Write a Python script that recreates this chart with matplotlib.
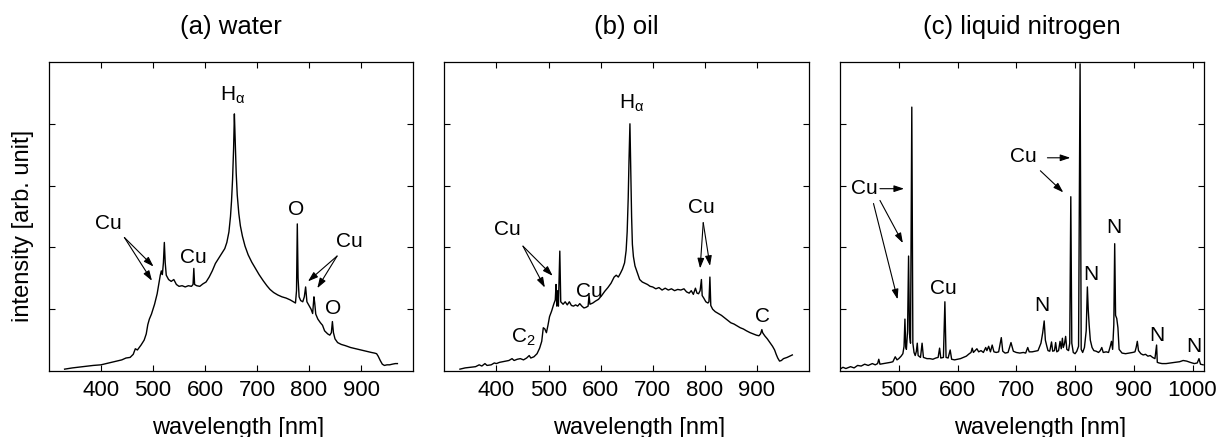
import matplotlib
matplotlib.use("Agg")
import matplotlib.pyplot as plt

plt.rcParams['font.family'] = ['Liberation Sans', 'DejaVu Sans']
plt.rcParams['mathtext.fontset'] = 'custom'
plt.rcParams['mathtext.rm'] = 'Liberation Sans'
plt.rcParams['mathtext.it'] = 'Liberation Sans'

# ---- (a) water ----
wl_water = [330, 345, 365, 385, 400, 415, 430, 440, 448, 456, 462, 466, 470, 477, 483,
            487, 490, 493, 497, 503, 508, 512, 514, 516, 518, 520, 521.8, 523.5, 525.5,
            530, 535, 540, 545, 550, 556, 562, 568, 574, 577, 578.5, 580, 584, 590, 596,
            602, 608, 614, 620, 626, 632, 638, 642, 646, 649, 651, 653, 655, 656.5, 658,
            660, 662, 665, 668, 672, 677, 683, 690, 697, 704, 712, 719, 725, 732, 740,
            748, 756, 764, 770, 774, 776, 777.5, 779, 781, 784, 788, 791, 793.5, 796,
            800, 804, 807, 809.5, 811, 813, 817, 822, 826, 830, 836, 840, 843, 845, 847,
            850, 855, 862, 870, 880, 890, 900, 910, 920, 926, 930, 933, 937, 941, 945,
            950, 955, 960, 966, 970]
int_water = [0.03, 0.05, 0.07, 0.09, 0.10, 0.13, 0.16, 0.18, 0.21, 0.22, 0.27, 0.36, 0.34,
             0.42, 0.50, 0.60, 0.75, 0.84, 0.92, 1.08, 1.25, 1.45, 1.55, 1.62, 1.56, 1.75,
             2.08, 1.75, 1.55, 1.48, 1.45, 1.48, 1.40, 1.37, 1.38, 1.36, 1.38, 1.37, 1.40,
             1.66, 1.40, 1.38, 1.37, 1.41, 1.44, 1.52, 1.62, 1.74, 1.82, 1.90, 1.98, 2.08,
             2.25, 2.50, 2.75, 3.10, 3.60, 4.16, 3.75, 3.20, 2.85, 2.55, 2.35, 2.18, 2.02,
             1.88, 1.76, 1.66, 1.56, 1.46, 1.38, 1.32, 1.27, 1.23, 1.20, 1.18, 1.15, 1.12,
             1.10, 1.30, 2.38, 1.50, 1.20, 1.14, 1.12, 1.20, 1.36, 1.12, 1.06, 1.00, 0.93,
             1.20, 1.10, 0.92, 0.84, 0.78, 0.74, 0.65, 0.60, 0.58, 0.62, 0.80, 0.62, 0.52,
             0.46, 0.43, 0.41, 0.38, 0.36, 0.34, 0.32, 0.30, 0.29, 0.28, 0.24, 0.17, 0.11,
             0.09, 0.10, 0.10, 0.11, 0.12, 0.12]

# ---- (b) oil ----
wl_oil = [330, 340, 350, 360, 367, 372, 378, 382, 390, 396, 400, 406, 412, 418, 424, 430,
          434, 440, 446, 452, 458, 463, 466, 472, 478, 483, 487, 490, 493, 496, 499, 502,
          506, 510, 513, 514.5, 516, 517.5, 519, 521.7, 523.5, 528, 532, 536, 540, 544,
          548, 552, 556, 560, 564, 568, 572, 576, 577.8, 579.5, 585, 590, 596, 602, 608,
          614, 620, 626, 630, 634, 638, 642, 646, 649, 651, 653, 654.5, 656.3, 658, 659.5,
          661, 663, 666, 670, 675, 680, 685, 690, 695, 700, 706, 712, 718, 724, 730, 736,
          742, 748, 754, 760, 765, 770, 774, 778, 782, 785, 788, 791, 793.5, 795, 798,
          802, 806, 808, 809.8, 811.5, 815, 820, 826, 832, 838, 844, 850, 856, 862, 868,
          874, 880, 887, 893, 899, 904, 907, 909.5, 911, 915, 920, 925, 930, 934, 937,
          940, 943.5, 947, 951, 958, 963, 968]
int_oil = [0.03, 0.05, 0.06, 0.07, 0.10, 0.08, 0.12, 0.09, 0.10, 0.13, 0.12, 0.14, 0.15,
           0.16, 0.17, 0.20, 0.17, 0.19, 0.20, 0.18, 0.21, 0.25, 0.21, 0.23, 0.28, 0.37,
           0.48, 0.70, 0.68, 0.62, 0.74, 0.88, 0.97, 1.08, 1.15, 1.40, 1.05, 1.30, 1.05,
           1.94, 1.12, 1.08, 1.12, 1.07, 1.12, 1.06, 1.05, 1.07, 1.05, 1.09, 1.05, 1.02,
           1.03, 1.05, 1.23, 1.08, 1.10, 1.13, 1.16, 1.22, 1.29, 1.35, 1.42, 1.52, 1.55,
           1.52, 1.58, 1.65, 1.75, 1.95, 2.25, 2.80, 3.40, 4.00, 3.20, 2.50, 2.05, 1.85,
           1.70, 1.60, 1.48, 1.44, 1.42, 1.40, 1.37, 1.36, 1.33, 1.35, 1.31, 1.34, 1.31,
           1.33, 1.30, 1.32, 1.31, 1.33, 1.28, 1.26, 1.30, 1.24, 1.34, 1.26, 1.25, 1.30,
           1.48, 1.22, 1.18, 1.12, 1.10, 1.12, 1.52, 1.06, 1.00, 0.96, 0.93, 0.90, 0.86,
           0.82, 0.78, 0.76, 0.73, 0.70, 0.68, 0.65, 0.62, 0.60, 0.58, 0.57, 0.60, 0.67,
           0.62, 0.57, 0.52, 0.46, 0.40, 0.34, 0.27, 0.21, 0.16, 0.17, 0.20, 0.22, 0.24,
           0.26]

# ---- (c) liquid nitrogen ----
wl_ln2 = [400, 405, 410, 418, 424, 430, 436, 442, 448, 455, 460, 464, 466, 468, 474, 480,
          486, 490, 494, 497, 500, 504, 507, 509, 510.5, 511.8, 513, 515, 516.7, 518.3,
          520, 522.2, 524, 526, 528, 530, 531.5, 533, 537, 539.7, 542, 548, 553, 558, 563,
          567, 569.5, 571.5, 576, 578.5, 580.5, 584, 587.5, 590, 595, 600, 605, 610, 615,
          620, 623, 625, 627, 630, 633, 636, 640, 644, 648, 650, 653, 656, 659, 662, 666,
          670, 674.5, 677, 681, 686, 691, 695, 700, 706, 712, 716, 719.5, 722, 727, 732,
          737, 742, 745, 747.5, 749.5, 752, 754, 757, 760, 762, 765, 767, 769, 772, 774.5,
          776.5, 778.5, 780, 782, 784, 786, 789, 791, 792.8, 794.5, 797, 800, 803, 806,
          808.6, 810.5, 813, 816, 819, 821, 822.5, 824, 826, 829, 832, 836, 840, 843,
          845.5, 848, 853, 857, 860, 862, 864, 866, 867.5, 869, 871, 873, 875, 880, 886,
          892, 898, 902, 904, 906, 908, 912, 916, 920, 924, 928, 932, 936, 938.8, 940,
          943, 948, 955, 962, 970, 978, 984, 990, 996, 1003, 1008, 1011, 1013.5, 1018]
int_ln2 = [0.03, 0.06, 0.04, 0.07, 0.05, 0.09, 0.08, 0.11, 0.09, 0.12, 0.10, 0.12, 0.19,
           0.11, 0.12, 0.13, 0.14, 0.15, 0.23, 0.18, 0.20, 0.24, 0.28, 0.40, 0.84, 0.40,
           0.35, 0.65, 1.86, 0.60, 0.45, 4.27, 0.45, 0.30, 0.25, 0.32, 0.45, 0.25, 0.22,
           0.45, 0.22, 0.20, 0.20, 0.19, 0.21, 0.22, 0.37, 0.21, 0.22, 1.12, 0.22, 0.21,
           0.34, 0.19, 0.18, 0.19, 0.20, 0.22, 0.24, 0.28, 0.30, 0.37, 0.30, 0.33, 0.36,
           0.31, 0.33, 0.30, 0.38, 0.33, 0.40, 0.31, 0.42, 0.31, 0.30, 0.31, 0.54, 0.32,
           0.29, 0.30, 0.46, 0.32, 0.30, 0.29, 0.30, 0.29, 0.38, 0.31, 0.31, 0.32, 0.33,
           0.45, 0.62, 0.81, 0.50, 0.40, 0.33, 0.32, 0.47, 0.32, 0.33, 0.46, 0.31, 0.33,
           0.48, 0.36, 0.53, 0.38, 0.44, 0.56, 0.35, 0.33, 0.45, 2.82, 0.45, 0.30, 0.28,
           0.32, 0.40, 4.97, 0.35, 0.30, 0.38, 0.65, 1.36, 0.99, 0.75, 0.50, 0.38, 0.33,
           0.32, 0.30, 0.33, 0.38, 0.30, 0.31, 0.30, 0.40, 0.48, 0.35, 0.75, 2.06, 0.90,
           0.85, 0.70, 0.35, 0.29, 0.28, 0.29, 0.30, 0.31, 0.38, 0.48, 0.33, 0.28, 0.26,
           0.27, 0.24, 0.25, 0.22, 0.20, 0.42, 0.14, 0.13, 0.12, 0.12, 0.13, 0.14, 0.15,
           0.17, 0.16, 0.14, 0.12, 0.13, 0.20, 0.11, 0.10]

titles = ["(a) water", "(b) oil", "(c) liquid nitrogen"]
xticks_ab = [400, 500, 600, 700, 800, 900]
xticks_c = [500, 600, 700, 800, 900, 1000]
yticks = [1, 2, 3, 4]

W, H = 1223, 437
fig = plt.figure(figsize=(W / 100, H / 100), dpi=100)

# axes boxes in pixels: left, width
boxes = [(49, 364), (444.3, 364.7), (840, 364.3)]
ax_bottom, ax_height = 66, 309
axes = [fig.add_axes([l / W, ax_bottom / H, w / W, ax_height / H]) for l, w in boxes]

series = [(wl_water, int_water), (wl_oil, int_oil), (wl_ln2, int_ln2)]
xlims = [(300, 1000), (300, 1000), (400, 1020)]
xtick_sets = [xticks_ab, xticks_ab, xticks_c]
xlabel_centers = [0.519, 0.534, 0.549]

for ax, (wl, iv), title, xl, xt, xc in zip(axes, series, titles, xlims, xtick_sets,
                                           xlabel_centers):
    ax.plot(wl, iv, color='black', lw=1.0)
    ax.set_xlim(*xl)
    ax.set_ylim(0, 5)
    ax.set_xticks(xt)
    ax.set_yticks(yticks)
    ax.tick_params(direction='in', top=True, right=True, length=4, width=0.8,
                   labelsize=16, pad=6.5, labelleft=False)
    for sp in ax.spines.values():
        sp.set_linewidth(0.9)
    ax.text(0.5, 1 + (62 - 34) / ax_height, title, transform=ax.transAxes,
            ha='center', va='baseline', fontsize=18.5)
    ax.text(xc, -(434 - 371) / ax_height, "wavelength [nm]", transform=ax.transAxes,
            ha='center', va='baseline', fontsize=17)

fig.text(23 / W, 1 - 226 / H, "intensity [arb. unit]", rotation=90,
         ha='center', va='center', fontsize=17)

LFS = 15
arrow_kw = dict(arrowstyle='-|>,head_length=0.6,head_width=0.2', lw=0.8,
                color='black', shrinkA=0, shrinkB=0)


def label(ax, x, y, s):
    ax.text(x, y, s, ha='center', va='baseline', fontsize=LFS)


def arrow(ax, start, end):
    ax.annotate('', xy=end, xytext=start, arrowprops=arrow_kw)


# (a) water
ax = axes[0]
label(ax, 654, 4.38, r'H$_{\mathregular{α}}$')
label(ax, 415, 2.29, 'Cu')
arrow(ax, (445, 2.16), (501, 1.69))
arrow(ax, (445, 2.16), (498, 1.46))
label(ax, 577, 1.75, 'Cu')
label(ax, 776, 2.53, 'O')
label(ax, 877, 2.00, 'Cu')
arrow(ax, (854, 1.86), (798, 1.45))
arrow(ax, (854, 1.86), (816, 1.34))
label(ax, 847, 0.93, 'O')

# (b) oil
ax = axes[1]
label(ax, 660, 4.25, r'H$_{\mathregular{α}}$')
label(ax, 421, 2.20, 'Cu')
arrow(ax, (451, 2.02), (508, 1.54))
arrow(ax, (451, 2.02), (493, 1.35))
label(ax, 578, 1.20, 'Cu')
label(ax, 794, 2.56, 'Cu')
arrow(ax, (797, 2.40), (791, 1.66))
arrow(ax, (797, 2.40), (810, 1.70))
label(ax, 910, 0.79, 'C')
label(ax, 451, 0.46, r'C$_{\mathregular{2}}$')

# (c) liquid nitrogen
ax = axes[2]
label(ax, 442, 2.86, 'Cu')
arrow(ax, (468, 2.95), (509, 2.95))
arrow(ax, (468, 2.76), (507, 2.07))
arrow(ax, (457, 2.71), (498, 1.16))
label(ax, 576, 1.24, 'Cu')
label(ax, 712, 3.38, 'Cu')
arrow(ax, (753, 3.45), (792, 3.45))
arrow(ax, (741, 3.24), (780, 2.89))
label(ax, 743.5, 0.975, 'N')
label(ax, 827, 1.47, 'N')
label(ax, 866, 2.24, 'N')
label(ax, 939, 0.49, 'N')
label(ax, 1003, 0.30, 'N')

fig.savefig("out.png", dpi=100)
